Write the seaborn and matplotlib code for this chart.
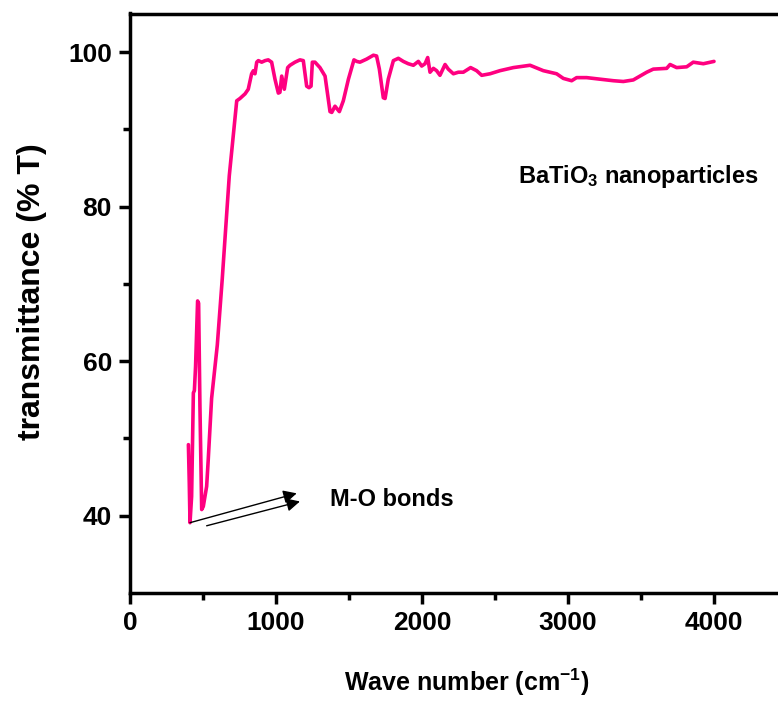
import matplotlib
matplotlib.use("Agg")
import matplotlib.pyplot as plt
import seaborn as sns
import pandas as pd
from matplotlib.ticker import MultipleLocator, FixedLocator

# FTIR spectrum of BaTiO3 nanoparticles
wavenumber = [400, 406, 411, 422, 434, 441, 449, 463, 470, 479, 491, 502, 525, 536,
              559, 598, 632, 680, 731, 753, 788, 810, 833, 845, 856, 868, 879, 902,
              925, 947, 970, 993, 1016, 1027, 1039, 1057, 1080, 1096, 1130, 1164,
              1187, 1210, 1226, 1240, 1249, 1267, 1301, 1336, 1370, 1382, 1404, 1434,
              1461, 1496, 1534, 1553, 1575, 1621, 1667, 1689, 1708, 1735, 1747, 1769,
              1804, 1838, 1872, 1906, 1941, 1975, 1998, 2021, 2039, 2055, 2078, 2100,
              2123, 2158, 2180, 2215, 2249, 2283, 2333, 2374, 2409, 2466, 2534, 2626,
              2740, 2831, 2922, 2968, 3025, 3059, 3128, 3219, 3311, 3379, 3447, 3493,
              3539, 3584, 3676, 3699, 3744, 3813, 3858, 3927, 4000]
transmittance = [49.2, 44.2, 39.1, 42.5, 55.9, 56.2, 59.3, 67.8, 67.5, 54.2, 40.8, 41.2,
                 43.8, 47.3, 55.2, 62.1, 70.7, 84.0, 93.7, 94.0, 94.6, 95.2, 97.2, 97.6,
                 97.2, 98.7, 98.9, 98.7, 98.9, 99.0, 98.7, 96.5, 94.7, 94.8, 96.9, 95.2,
                 98.0, 98.3, 98.7, 99.0, 98.9, 95.6, 95.4, 95.6, 98.7, 98.7, 98.0, 96.9,
                 92.3, 92.2, 93.0, 92.3, 93.7, 96.5, 99.0, 98.8, 98.7, 99.1, 99.6, 99.5,
                 97.8, 94.1, 94.0, 96.5, 98.9, 99.2, 98.8, 98.5, 98.3, 98.8, 98.2, 98.5,
                 99.3, 97.4, 97.9, 97.6, 97.0, 98.4, 97.8, 97.2, 97.4, 97.4, 98.0, 97.6,
                 97.0, 97.2, 97.6, 98.0, 98.3, 97.6, 97.2, 96.6, 96.3, 96.7, 96.7, 96.5,
                 96.3, 96.2, 96.4, 96.9, 97.4, 97.8, 97.9, 98.4, 98.0, 98.1, 98.7, 98.5,
                 98.8]

x_ticks = [0, 1000, 2000, 3000, 4000]
y_ticks = [40, 60, 80, 100]
y_minor = [50, 70, 90]

# M-O bond arrows: (start, tip)
arrow_starts = [(411, 39.1), (525, 38.7)]
arrow_tips = [(1142, 42.9), (1164, 41.85)]


def main():
    sns.set_style("ticks")
    plt.rcParams['font.family'] = ['Liberation Sans', 'DejaVu Sans']
    plt.rcParams['font.weight'] = 'bold'
    plt.rcParams['text.color'] = 'black'
    plt.rcParams['axes.labelcolor'] = 'black'
    plt.rcParams['xtick.color'] = 'black'
    plt.rcParams['ytick.color'] = 'black'
    plt.rcParams['mathtext.fontset'] = 'custom'
    plt.rcParams['mathtext.rm'] = 'Liberation Sans:bold'
    plt.rcParams['mathtext.bf'] = 'Liberation Sans:bold'
    plt.rcParams['mathtext.default'] = 'rm'

    df = pd.DataFrame({'wn': wavenumber, 't': transmittance})

    fig, ax = plt.subplots(figsize=(7.78, 7.02), dpi=100)
    ax.set_position([130 / 778, 109 / 702, 657 / 778, 579.5 / 702])

    sns.lineplot(data=df, x='wn', y='t', color='#FF0080', linewidth=2.6,
                 sort=False, estimator=None, ax=ax)

    for s, t in zip(arrow_starts, arrow_tips):
        ax.annotate('', xy=t, xytext=s,
                    arrowprops=dict(arrowstyle='-|>', color='black', lw=1.0,
                                    mutation_scale=20, shrinkA=0, shrinkB=0))

    ax.text(1370, 41.3, 'M-O bonds', fontsize=17, fontweight='bold',
            ha='left', va='baseline')
    ax.text(2660, 83.1, 'BaTiO$_3$ nanoparticles', fontsize=17, fontweight='bold',
            ha='left', va='baseline')

    ax.set_xlim(0, 4500)
    ax.set_ylim(30, 105)
    ax.xaxis.set_major_locator(FixedLocator(x_ticks))
    ax.xaxis.set_minor_locator(MultipleLocator(500))
    ax.yaxis.set_major_locator(FixedLocator(y_ticks))
    ax.yaxis.set_minor_locator(FixedLocator(y_minor))

    ax.set_xlabel('Wave number (cm$^{-1}$)', fontsize=18, fontweight='bold', labelpad=23)
    ax.set_ylabel('transmittance (% T)', fontsize=23, fontweight='bold', labelpad=15)
    ax.xaxis.label.set_x(0.513)
    ax.yaxis.label.set_y(0.52)

    ax.tick_params(axis='both', which='major', direction='out', length=8, width=2.5,
                   labelsize=19, pad=5, color='black', labelcolor='black')
    ax.tick_params(axis='both', which='minor', direction='out', length=5, width=2.5,
                   color='black')
    for lbl in ax.get_xticklabels() + ax.get_yticklabels():
        lbl.set_fontweight('bold')

    for side in ['left', 'bottom', 'top']:
        ax.spines[side].set_linewidth(2.5)
        ax.spines[side].set_color('black')
    ax.spines['right'].set_visible(False)

    fig.savefig('out.png', dpi=100)


if __name__ == "__main__":
    main()
